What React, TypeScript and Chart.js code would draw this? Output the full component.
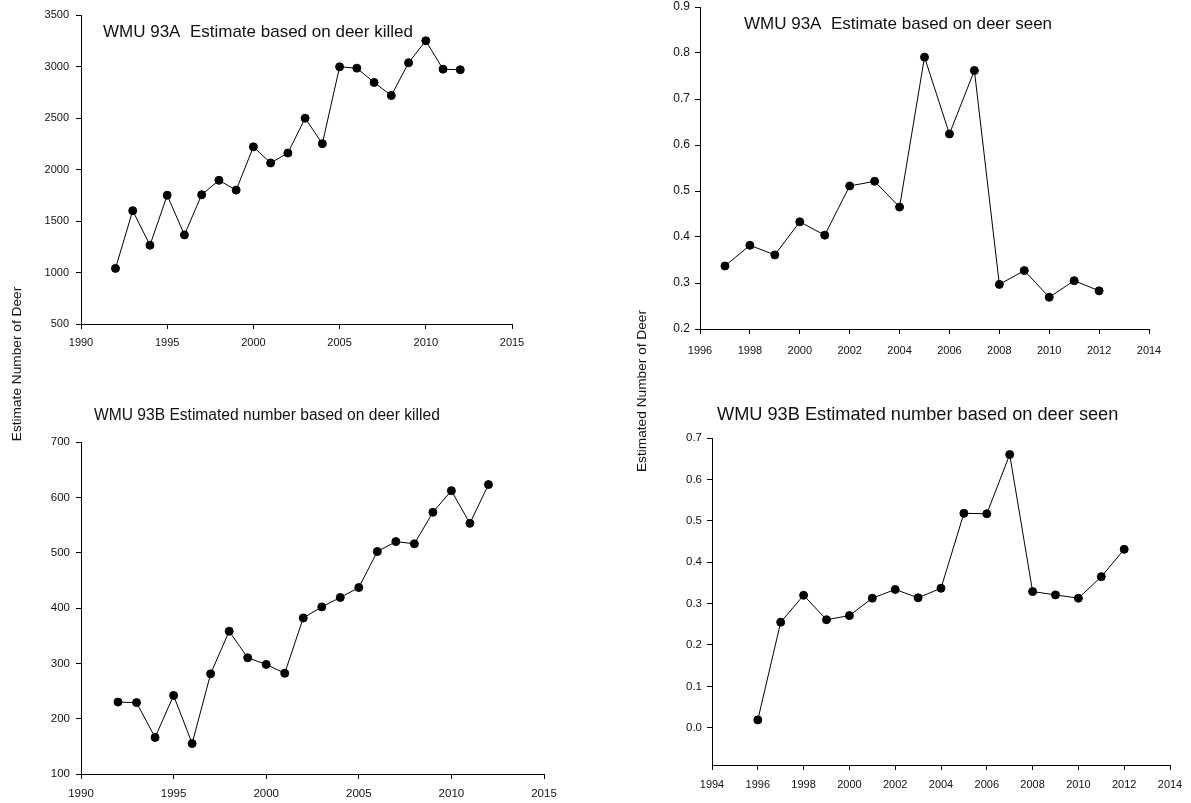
import React, { useEffect, useRef } from "react";
import { Chart, registerables } from "chart.js";
Chart.register(...registerables);

const PAGE_W = 1191;
const PAGE_H = 803;
const FONT = "'Liberation Sans', Arial, Helvetica, sans-serif";

// ---- Data ----
const years93AKilled = [1992, 1993, 1994, 1995, 1996, 1997, 1998, 1999, 2000, 2001, 2002, 2003, 2004, 2005, 2006, 2007, 2008, 2009, 2010, 2011, 2012];
const deer93AKilled = [1040, 1600, 1265, 1750, 1365, 1755, 1895, 1800, 2220, 2063, 2160, 2498, 2251, 2997, 2984, 2845, 2718, 3036, 3250, 2974, 2968];

const years93ASeen = [1997, 1998, 1999, 2000, 2001, 2002, 2003, 2004, 2005, 2006, 2007, 2008, 2009, 2010, 2011, 2012];
const deer93ASeen = [0.337, 0.382, 0.361, 0.433, 0.404, 0.511, 0.521, 0.465, 0.791, 0.624, 0.762, 0.297, 0.327, 0.269, 0.305, 0.283];

const years93BKilled = [1992, 1993, 1994, 1995, 1996, 1997, 1998, 1999, 2000, 2001, 2002, 2003, 2004, 2005, 2006, 2007, 2008, 2009, 2010, 2011, 2012];
const deer93BKilled = [230, 229, 166, 242, 155, 281, 358, 310, 298, 282, 382, 402, 419, 437, 502, 520, 516, 573, 612, 553, 623];

const years93BSeen = [1996, 1997, 1998, 1999, 2000, 2001, 2002, 2003, 2004, 2005, 2006, 2007, 2008, 2009, 2010, 2011, 2012];
const deer93BSeen = [0.019, 0.255, 0.32, 0.261, 0.271, 0.313, 0.334, 0.314, 0.337, 0.518, 0.517, 0.66, 0.329, 0.321, 0.313, 0.365, 0.431];

// ---- Tick labels ----
const xTicksKilled = [1990, 1995, 2000, 2005, 2010, 2015];
const xTicks93ASeen = [1996, 1998, 2000, 2002, 2004, 2006, 2008, 2010, 2012, 2014];
const xTicks93BSeen = [1994, 1996, 1998, 2000, 2002, 2004, 2006, 2008, 2010, 2012, 2014];
const yTicks93AKilled = [500, 1000, 1500, 2000, 2500, 3000, 3500];
const yTicks93ASeen = [0.2, 0.3, 0.4, 0.5, 0.6, 0.7, 0.8, 0.9];
const yTicks93BKilled = [100, 200, 300, 400, 500, 600, 700];
const yTicks93BSeen = [0.0, 0.1, 0.2, 0.3, 0.4, 0.5, 0.6, 0.7];

// ---- Texts ----
const title93AKilled = "WMU 93A  Estimate based on deer killed";
const title93ASeen = "WMU 93A  Estimate based on deer seen";
const title93BKilled = "WMU 93B Estimated number based on deer killed";
const title93BSeen = "WMU 93B Estimated number based on deer seen";
const leftAxisTitle = "Estimate Number of Deer";
const rightAxisTitle = "Estimated Number of Deer";

type TextItem = { text: string; x: number; y: number; size: number; align: CanvasTextAlign; rotate?: number };

type Panel = {
  area: { l: number; t: number; r: number; b: number };
  xs: number[];
  ys: number[];
  xTicks: number[];
  yTicks: number[];
  xMin: number;
  xMax: number;
  yMin: number;
  yMax: number;
  yDecimals: number;
  xPad: number;
  yPad: number;
  xFont: number;
  yFont: number;
  texts: TextItem[];
};

const YW = 60;
const XH = 25;

const panels: Panel[] = [
  {
    area: { l: 81, t: 15, r: 512, b: 324 },
    xs: years93AKilled, ys: deer93AKilled,
    xTicks: xTicksKilled, yTicks: yTicks93AKilled,
    xMin: 1990, xMax: 2015, yMin: 500, yMax: 3500, yDecimals: 0,
    xPad: 7, yPad: 7, xFont: 11, yFont: 11,
    texts: [
      { text: title93AKilled, x: 103, y: 32, size: 17, align: "left" },
      { text: leftAxisTitle, x: 17, y: 364, size: 13.7, align: "center", rotate: -Math.PI / 2 },
    ],
  },
  {
    area: { l: 700, t: 7, r: 1149, b: 329 },
    xs: years93ASeen, ys: deer93ASeen,
    xTicks: xTicks93ASeen, yTicks: yTicks93ASeen,
    xMin: 1996, xMax: 2014, yMin: 0.2, yMax: 0.9, yDecimals: 1,
    xPad: 10, yPad: 5, xFont: 11, yFont: 12,
    texts: [
      { text: title93ASeen, x: 744, y: 24, size: 17, align: "left" },
      { text: rightAxisTitle, x: 642, y: 391, size: 13.7, align: "center", rotate: -Math.PI / 2 },
    ],
  },
  {
    area: { l: 81, t: 442, r: 544, b: 774 },
    xs: years93BKilled, ys: deer93BKilled,
    xTicks: xTicksKilled, yTicks: yTicks93BKilled,
    xMin: 1990, xMax: 2015, yMin: 100, yMax: 700, yDecimals: 0,
    xPad: 8, yPad: 6, xFont: 11.5, yFont: 11.5,
    texts: [
      { text: title93BKilled, x: 94, y: 416, size: 15.6, align: "left" },
    ],
  },
  {
    area: { l: 712, t: 438, r: 1170, b: 765 },
    xs: years93BSeen, ys: deer93BSeen,
    xTicks: xTicks93BSeen, yTicks: yTicks93BSeen,
    xMin: 1994, xMax: 2014, yMin: -0.09, yMax: 0.7, yDecimals: 1,
    xPad: 8, yPad: 5, xFont: 11, yFont: 11.5,
    texts: [
      { text: title93BSeen, x: 717, y: 415, size: 18.2, align: "left" },
    ],
  },
];

const textPlugin = {
  id: "panelTexts",
  afterDraw(chart: any, _args: any, opts: any) {
    const ctx = chart.ctx as CanvasRenderingContext2D;
    const items: TextItem[] = opts.items || [];
    for (const t of items) {
      ctx.save();
      ctx.font = `${t.size}px ${FONT}`;
      ctx.fillStyle = "#111";
      ctx.textBaseline = "middle";
      ctx.textAlign = t.align;
      ctx.translate(t.x, t.y);
      if (t.rotate) ctx.rotate(t.rotate);
      ctx.fillText(t.text, 0, 0);
      ctx.restore();
    }
  },
};

function PanelChart({ p }: { p: Panel }) {
  const ref = useRef<HTMLCanvasElement | null>(null);
  useEffect(() => {
    if (!ref.current) return;
    const fixFit = (scale: any) => {
      if (scale.isHorizontal()) scale.height = XH;
      else scale.width = YW;
      scale.paddingLeft = 0;
      scale.paddingRight = 0;
      scale.paddingTop = 0;
      scale.paddingBottom = 0;
    };
    const chart = new Chart(ref.current, {
      type: "line",
      data: {
        datasets: [
          {
            data: p.xs.map((x, i) => ({ x, y: p.ys[i] })),
            borderColor: "#000",
            borderWidth: 1,
            backgroundColor: "#000",
            pointBackgroundColor: "#000",
            pointBorderColor: "#000",
            pointRadius: 4,
            pointBorderWidth: 1,
            tension: 0,
            fill: false,
          },
        ],
      },
      options: {
        animation: false,
        responsive: false,
        maintainAspectRatio: false,
        events: [],
        layout: {
          padding: {
            left: p.area.l - YW,
            right: PAGE_W - p.area.r,
            top: p.area.t,
            bottom: PAGE_H - p.area.b - XH,
          },
        },
        plugins: {
          legend: { display: false },
          title: { display: false },
          tooltip: { enabled: false },
          panelTexts: { items: p.texts },
        } as any,
        scales: {
          x: {
            type: "linear",
            min: p.xMin,
            max: p.xMax,
            afterBuildTicks: (s: any) => {
              s.ticks = p.xTicks.map((v) => ({ value: v }));
            },
            afterFit: fixFit,
            grid: { display: true, drawOnChartArea: false, drawTicks: true, tickLength: 5, color: "#000", lineWidth: 1 },
            border: { display: true, color: "#000", width: 1 },
            ticks: {
              color: "#111",
              font: { family: FONT, size: p.xFont },
              padding: p.xPad,
              maxRotation: 0,
              autoSkip: false,
              callback: (v: any) => String(v),
            },
          },
          y: {
            type: "linear",
            min: p.yMin,
            max: p.yMax,
            afterBuildTicks: (s: any) => {
              s.ticks = p.yTicks.map((v) => ({ value: v }));
            },
            afterFit: fixFit,
            grid: { display: true, drawOnChartArea: false, drawTicks: true, tickLength: 5, color: "#000", lineWidth: 1 },
            border: { display: true, color: "#000", width: 1 },
            ticks: {
              color: "#111",
              font: { family: FONT, size: p.yFont },
              padding: p.yPad,
              autoSkip: false,
              callback: (v: any) => Number(v).toFixed(p.yDecimals),
            },
          },
        },
      } as any,
      plugins: [textPlugin],
    });
    return () => chart.destroy();
  }, [p]);
  return (
    <canvas
      ref={ref}
      width={PAGE_W}
      height={PAGE_H}
      style={{ position: "absolute", left: 0, top: 0, width: PAGE_W, height: PAGE_H }}
    />
  );
}

export default function App() {
  return (
    <div style={{ position: "absolute", left: 0, top: 0, width: PAGE_W, height: PAGE_H, background: "#fff" }}>
      {panels.map((p, i) => (
        <PanelChart key={i} p={p} />
      ))}
    </div>
  );
}
